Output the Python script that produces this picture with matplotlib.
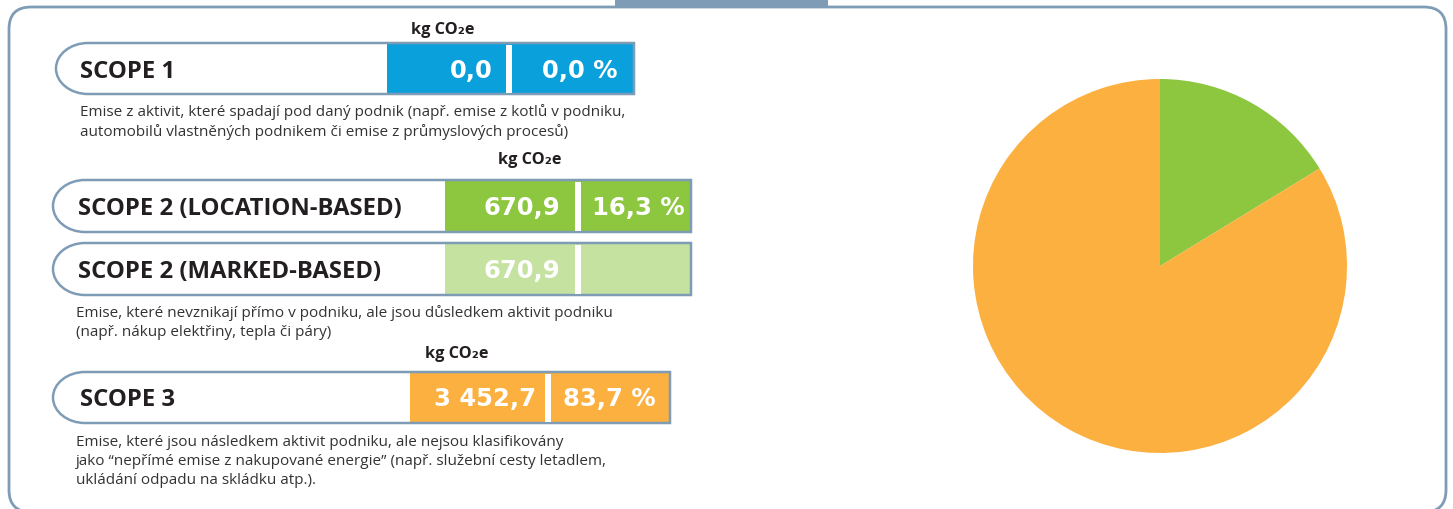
import matplotlib
matplotlib.use('Agg')
import matplotlib.pyplot as plt
from matplotlib.patches import Rectangle, FancyBboxPatch, PathPatch
from matplotlib.path import Path

# --- data ---
SCOPE_LABELS = ["SCOPE 1", "SCOPE 2 (LOCATION-BASED)", "SCOPE 2 (MARKED-BASED)", "SCOPE 3"]
SCOPE_VALUES = [0.0, 670.9, 670.9, 3452.7]        # kg CO2e
SCOPE_SHARES = [0.0, 16.3, None, 83.7]            # % of total
PIE_LABELS = ["SCOPE 1", "SCOPE 2", "SCOPE 3"]
PIE_VALUES = [0.0, 670.9, 3452.7]
DESCRIPTIONS = [
    ["Emise z aktivit, které spadají pod daný podnik (např. emise z kotlů v podniku,",
     "automobilů vlastněných podnikem či emise z průmyslových procesů)"],
    ["Emise, které nevznikají přímo v podniku, ale jsou důsledkem aktivit podniku",
     "(např. nákup elektřiny, tepla či páry)"],
    ["Emise, které jsou následkem aktivit podniku, ale nejsou klasifikovány",
     "jako “nepřímé emise z nakupované energie” (např. služební cesty letadlem,",
     "ukládání odpadu na skládku atp.)."],
]
UNIT_LABELS = ["kg CO₂e", "kg CO₂e", "kg CO₂e"]

# --- style ---
BLUE = '#0aa0dc'
GREEN = '#8dc63f'
LIGHT_GREEN = '#c6e2a1'
ORANGE = '#fbb040'
FRAME = '#7f9cb7'
DARK = '#231f20'
TEXT = '#333333'
LABEL_FONT = ['Open Sans', 'DejaVu Sans']
VALUE_FONT = ['DejaVu Sans']
TEXT_FONT = ['Open Sans', 'DejaVu Sans']

# box geometry in pixels: x0, y0, x1, y1, cell start, gap start, label x, value right, share right
BOXES = [
    (56, 43, 634, 94, 387, 506, 80, 493, 617),
    (53, 180, 691, 232, 445, 575, 78, 560, 685),
    (53, 243, 691, 295, 445, 575, 78, 560, 685),
    (53, 372, 670, 423, 410, 545, 80, 536, 656),
]
CELL_COLORS = [BLUE, GREEN, LIGHT_GREEN, ORANGE]
UNIT_POS = [(443, 30), (530, 160), (457, 354)]
DESC_POS = [(80, 112), (76, 313), (76, 442)]
LINE_H = 19.5


def fmt(v):
    return f"{v:,.1f}".replace(",", " ").replace(".", ",")


def pill_path(x0, y0, x1, y1, rx=32):
    ry = (y1 - y0) / 2
    ym = (y0 + y1) / 2
    k = 0.5523
    verts = [
        (x0 + rx, y0), (x1, y0), (x1, y1), (x0 + rx, y1),
        (x0 + rx - k * rx, y1), (x0, ym + k * ry), (x0, ym),
        (x0, ym - k * ry), (x0 + rx - k * rx, y0), (x0 + rx, y0),
    ]
    codes = [Path.MOVETO, Path.LINETO, Path.LINETO, Path.LINETO,
             Path.CURVE4, Path.CURVE4, Path.CURVE4,
             Path.CURVE4, Path.CURVE4, Path.CURVE4]
    return Path(verts, codes)


W, H = 1453, 509
fig = plt.figure(figsize=(W / 100, H / 100), dpi=100)
ax = fig.add_axes([0, 0, 1, 1])
ax.set_xlim(0, W)
ax.set_ylim(H, 0)
ax.axis('off')

# outer frame and top tab
ax.add_patch(FancyBboxPatch((9, 7), 1437, 505, boxstyle="round,pad=0,rounding_size=22",
                            facecolor='white', edgecolor=FRAME, linewidth=2, zorder=1))
ax.add_patch(Rectangle((615, 0), 213, 7, facecolor=FRAME, edgecolor='none', zorder=2))

for i, (label, value, share) in enumerate(zip(SCOPE_LABELS, SCOPE_VALUES, SCOPE_SHARES)):
    x0, y0, x1, y1, cx, gx, lx, vr, sr = BOXES[i]
    ym = (y0 + y1) / 2
    ax.add_patch(PathPatch(pill_path(x0, y0, x1, y1), facecolor='white', edgecolor='none', zorder=3))
    ax.add_patch(Rectangle((cx, y0), x1 - cx, y1 - y0, facecolor=CELL_COLORS[i],
                           edgecolor='none', zorder=4))
    ax.add_patch(PathPatch(pill_path(x0, y0, x1, y1), facecolor='none', edgecolor=FRAME,
                           linewidth=1.8, zorder=5))
    ax.add_patch(Rectangle((gx, y0 + 1.5), 6, y1 - y0 - 3, facecolor='white',
                           edgecolor='none', zorder=6))
    ax.text(lx, ym + 3, label, ha='left', va='center', fontsize=17.2, fontweight='bold',
            color=DARK, family=LABEL_FONT, zorder=7)
    ax.text(vr, ym + 2, fmt(value), ha='right', va='center', fontsize=17.5, fontweight='bold',
            color='white', family=VALUE_FONT, zorder=7)
    if share is not None:
        ax.text(sr, ym + 2, fmt(share) + " %", ha='right', va='center', fontsize=17.5,
                fontweight='bold', color='white', family=VALUE_FONT, zorder=7)

for (ux, uy), unit in zip(UNIT_POS, UNIT_LABELS):
    ax.text(ux, uy, unit, ha='center', va='center', fontsize=11.7, fontweight='bold',
            color=DARK, family=TEXT_FONT, zorder=7)

for (dx, dy), lines in zip(DESC_POS, DESCRIPTIONS):
    for j, line in enumerate(lines):
        ax.text(dx, dy + j * LINE_H, line, ha='left', va='center', fontsize=11,
                color=TEXT, family=TEXT_FONT, zorder=7)

# pie chart
cx, cy, r = 1160, 266, 187
pax = fig.add_axes([(cx - r) / W, 1 - (cy + r) / H, 2 * r / W, 2 * r / H])
pax.pie(PIE_VALUES, colors=[BLUE, GREEN, ORANGE], startangle=90, counterclock=False,
        wedgeprops={'linewidth': 0})
pax.set_xlim(-1, 1)
pax.set_ylim(-1, 1)
pax.set_aspect('equal')
pax.axis('off')

fig.savefig('out.png', dpi=100)
